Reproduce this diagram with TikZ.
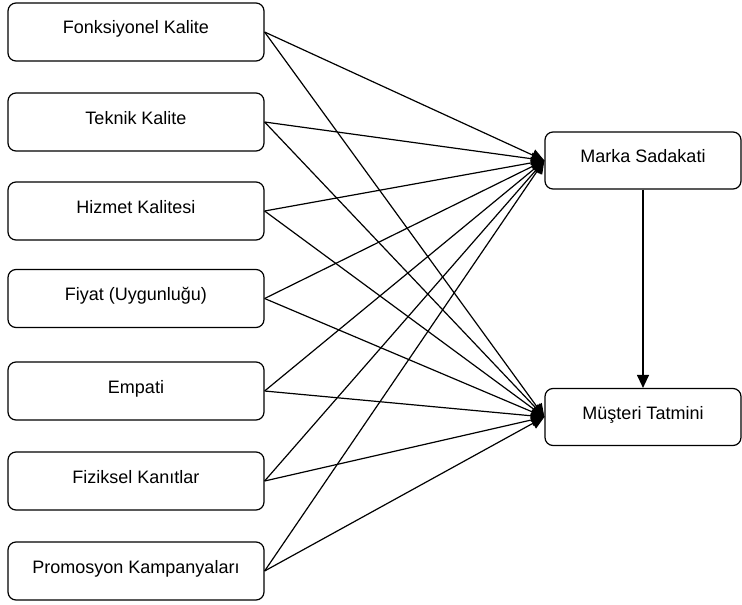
\documentclass[tikz,border=0pt]{standalone}
\usepackage{fontspec}
\setmainfont{Liberation Sans}
\usepackage{tikz}
\usetikzlibrary{arrows.meta}
\tikzset{kutu/.style={draw, rounded corners=8pt, line width=1.2pt, minimum width=256pt, minimum height=58pt, inner sep=0pt, text depth=8pt, text height=12pt, font=\fontsize{18}{20}\selectfont}}
\tikzset{sonuc/.style={kutu, minimum width=196pt, minimum height=57pt}}
\tikzset{ok/.style={line width=1.2pt, -{Triangle[length=13pt, width=12pt]}}}

\begin{document}
\begin{tikzpicture}[x=1pt, y=-1pt]
\useasboundingbox (0,0) rectangle (742,605);
\draw (136,32) node[kutu](fonk){Fonksiyonel Kalite};
\draw (136,122) node[kutu](teknik){Teknik Kalite};
\draw (136,211) node[kutu](hizmet){Hizmet Kalitesi};
\draw (136,298.5) node[kutu](fiyat){Fiyat (Uygunluğu)};
\draw (136,391) node[kutu](empati){Empati};
\draw (136,481) node[kutu](fiziksel){Fiziksel Kanıtlar};
\draw (136,571) node[kutu](promosyon){Promosyon Kampanyaları};
\draw (643,160.5) node[sonuc](sadakat){Marka Sadakati};
\draw (643,417) node[sonuc](tatmin){Müşteri Tatmini};
% bagimsiz degiskenlerden marka sadakatine
\draw[ok] (fonk.east)--(sadakat.west);
\draw[ok] (teknik.east)--(sadakat.west);
\draw[ok] (hizmet.east)--(sadakat.west);
\draw[ok] (fiyat.east)--(sadakat.west);
\draw[ok] (empati.east)--(sadakat.west);
\draw[ok] (fiziksel.east)--(sadakat.west);
\draw[ok] (promosyon.east)--(sadakat.west);
% musteri tatminine
\draw[ok] (fonk.east)--(tatmin.west);
\draw[ok] (teknik.east)--(tatmin.west);
\draw[ok] (hizmet.east)--(tatmin.west);
\draw[ok] (fiyat.east)--(tatmin.west);
\draw[ok] (empati.east)--(tatmin.west);
\draw[ok] (fiziksel.east)--(tatmin.west);
\draw[ok] (promosyon.east)--(tatmin.west);
\draw[ok] (sadakat.south)--(tatmin.north);
\end{tikzpicture}
\end{document}
